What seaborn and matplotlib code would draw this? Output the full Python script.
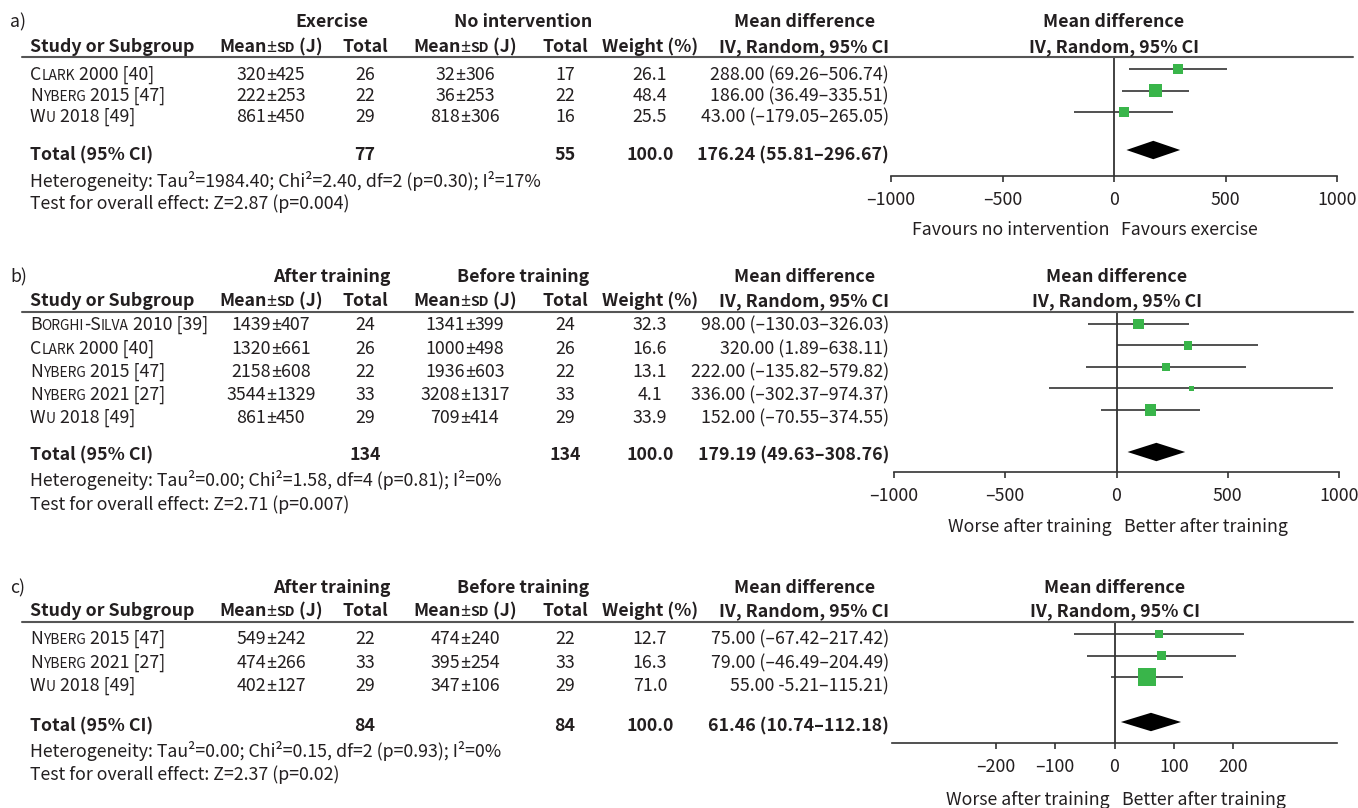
import numpy as np
import pandas as pd
import matplotlib
matplotlib.use("Agg")
import matplotlib.pyplot as plt
import seaborn as sns
from matplotlib.transforms import IdentityTransform
from matplotlib.lines import Line2D

# ---------------- data ----------------
# panel a
authors_a = ["Clark", "Nyberg", "Wu"]
refs_a = ["2000 [40]", "2015 [47]", "2018 [49]"]
exp_mean_a = [320, 222, 861]
exp_sd_a = [425, 253, 450]
exp_n_a = [26, 22, 29]
ctl_mean_a = [32, 36, 818]
ctl_sd_a = [306, 253, 306]
ctl_n_a = [17, 22, 16]
weight_a = [26.1, 48.4, 25.5]
md_a = [288.00, 186.00, 43.00]
lo_a = [69.26, 36.49, -179.05]
hi_a = [506.74, 335.51, 265.05]
ci_text_a = ["288.00 (69.26–506.74)", "186.00 (36.49–335.51)", "43.00 (–179.05–265.05)"]
total_a = {"n_exp": 77, "n_ctl": 55, "weight": "100.0", "md": 176.24, "lo": 55.81, "hi": 296.67,
           "text": "176.24 (55.81–296.67)"}
het_a = "Heterogeneity: Tau²=1984.40; Chi²=2.40, df=2 (p=0.30); I²=17%"
test_a = "Test for overall effect: Z=2.87 (p=0.004)"
groups_a = ["Exercise", "No intervention"]
favours_a = ["Favours no intervention", "Favours exercise"]
ticks_a = [-1000, -500, 0, 500, 1000]

# panel b
authors_b = ["Borghi-Silva", "Clark", "Nyberg", "Nyberg", "Wu"]
refs_b = ["2010 [39]", "2000 [40]", "2015 [47]", "2021 [27]", "2018 [49]"]
exp_mean_b = [1439, 1320, 2158, 3544, 861]
exp_sd_b = [407, 661, 608, 1329, 450]
exp_n_b = [24, 26, 22, 33, 29]
ctl_mean_b = [1341, 1000, 1936, 3208, 709]
ctl_sd_b = [399, 498, 603, 1317, 414]
ctl_n_b = [24, 26, 22, 33, 29]
weight_b = [32.3, 16.6, 13.1, 4.1, 33.9]
md_b = [98.00, 320.00, 222.00, 336.00, 152.00]
lo_b = [-130.03, 1.89, -135.82, -302.37, -70.55]
hi_b = [326.03, 638.11, 579.82, 974.37, 374.55]
ci_text_b = ["98.00 (–130.03–326.03)", "320.00 (1.89–638.11)", "222.00 (–135.82–579.82)",
             "336.00 (–302.37–974.37)", "152.00 (–70.55–374.55)"]
total_b = {"n_exp": 134, "n_ctl": 134, "weight": "100.0", "md": 179.19, "lo": 49.63, "hi": 308.76,
           "text": "179.19 (49.63–308.76)"}
het_b = "Heterogeneity: Tau²=0.00; Chi²=1.58, df=4 (p=0.81); I²=0%"
test_b = "Test for overall effect: Z=2.71 (p=0.007)"
groups_b = ["After training", "Before training"]
favours_b = ["Worse after training", "Better after training"]
ticks_b = [-1000, -500, 0, 500, 1000]

# panel c
authors_c = ["Nyberg", "Nyberg", "Wu"]
refs_c = ["2015 [47]", "2021 [27]", "2018 [49]"]
exp_mean_c = [549, 474, 402]
exp_sd_c = [242, 266, 127]
exp_n_c = [22, 33, 29]
ctl_mean_c = [474, 395, 347]
ctl_sd_c = [240, 254, 106]
ctl_n_c = [22, 33, 29]
weight_c = [12.7, 16.3, 71.0]
md_c = [75.00, 79.00, 55.00]
lo_c = [-67.42, -46.49, -5.21]
hi_c = [217.42, 204.49, 115.21]
ci_text_c = ["75.00 (–67.42–217.42)", "79.00 (–46.49–204.49)", "55.00 -5.21–115.21)"]
total_c = {"n_exp": 84, "n_ctl": 84, "weight": "100.0", "md": 61.46, "lo": 10.74, "hi": 112.18,
           "text": "61.46 (10.74–112.18)"}
het_c = "Heterogeneity: Tau²=0.00; Chi²=0.15, df=2 (p=0.93); I²=0%"
test_c = "Test for overall effect: Z=2.37 (p=0.02)"
groups_c = ["After training", "Before training"]
favours_c = ["Worse after training", "Better after training"]
ticks_c = [-200, -100, 0, 100, 200]

# ---------------- style ----------------
sns.set_style("white")
MAIN = ["Noto Sans CJK SC", "DejaVu Sans"]
PM_FAMILY = ["Noto Sans", "DejaVu Sans"]
plt.rcParams["font.family"] = MAIN

W, H = 1358, 808
FS = 12.8
SC = 0.78
TXT = "#231f20"
GREEN = "#39b54a"
DARK = "#333333"

fig = plt.figure(figsize=(W / 100, H / 100), dpi=100)
fig.patch.set_facecolor("white")
renderer = fig.canvas.get_renderer()


def rich(x, y, segs, ha="left", weight="normal", size=FS):
    ts = []
    for seg in segs:
        s, k = seg[0], seg[1]
        fam = seg[2] if len(seg) > 2 else MAIN
        t = fig.text(0, H - y, s, transform=IdentityTransform(), fontsize=size * k,
                     fontweight=weight, va="baseline", ha="left", color=TXT, family=fam)
        ts.append(t)
    ws = [t.get_window_extent(renderer).width for t in ts]
    tot = sum(ws)
    x0 = x - {"left": 0, "center": tot / 2, "right": tot}[ha]
    for t, w in zip(ts, ws):
        t.set_x(x0)
        x0 += w


def plain(x, y, s, ha="left", weight="normal"):
    rich(x, y, [(s, 1.0)], ha=ha, weight=weight)


def pm(m, s):
    return [(str(m), 1.0), ("±", 1.0, PM_FAMILY), (str(s), 1.0)]


def smallcaps(word):
    segs = []
    for ch in word:
        k = SC if ch.islower() else 1.0
        c = ch.upper()
        if segs and segs[-1][1] == k:
            segs[-1] = (segs[-1][0] + c, k)
        else:
            segs.append((c, k))
    return segs


# column x positions (pixels)
X_STUDY, X_EM, X_EN, X_CM, X_CN, X_W, X_CI = 30, 271, 365, 465, 565, 650, 889
X_G1, X_G2, X_MD = 332, 523, 805

panels = [
    dict(tag="a)", authors=authors_a, refs=refs_a, em=exp_mean_a, es=exp_sd_a, en=exp_n_a,
         cm=ctl_mean_a, cs=ctl_sd_a, cn=ctl_n_a, w=weight_a, md=md_a, lo=lo_a, hi=hi_a,
         ci=ci_text_a, tot=total_a, het=het_a, test=test_a, groups=groups_a, fav=favours_a,
         ticks=ticks_a, xlim=(-1000, 1000), S=175,
         lay=dict(label=27, header=52, line=57, rows=[80, 101, 122], total=160, het=187, test=209,
                  L=891, R=1337, B=176, r0=69, step=21.5, dia=150, fav=235)),
    dict(tag="b)", authors=authors_b, refs=refs_b, em=exp_mean_b, es=exp_sd_b, en=exp_n_b,
         cm=ctl_mean_b, cs=ctl_sd_b, cn=ctl_n_b, w=weight_b, md=md_b, lo=lo_b, hi=hi_b,
         ci=ci_text_b, tot=total_b, het=het_b, test=test_b, groups=groups_b, fav=favours_b,
         ticks=ticks_b, xlim=(-1000, 1000), S=175,
         lay=dict(label=282, header=306, line=312, rows=[330, 354, 377, 400, 423], total=460,
                  het=486, test=510, L=894, R=1339, B=472, r0=324, step=21.5, dia=452, fav=532)),
    dict(tag="c)", authors=authors_c, refs=refs_c, em=exp_mean_c, es=exp_sd_c, en=exp_n_c,
         cm=ctl_mean_c, cs=ctl_sd_c, cn=ctl_n_c, w=weight_c, md=md_c, lo=lo_c, hi=hi_c,
         ci=ci_text_c, tot=total_c, het=het_c, test=test_c, groups=groups_c, fav=favours_c,
         ticks=ticks_c, xlim=(-375, 375), S=240,
         lay=dict(label=593, header=616, line=622, rows=[644, 668, 691], total=731, het=757,
                  test=780, L=892, R=1337, B=743, r0=634, step=21.5, dia=722, fav=805)),
]

for p in panels:
    lay = p["lay"]
    # header row 1
    plain(10, lay["label"], p["tag"])
    plain(X_G1, lay["label"], p["groups"][0], ha="center", weight="bold")
    plain(X_G2, lay["label"], p["groups"][1], ha="center", weight="bold")
    plain(X_MD, lay["label"], "Mean difference", ha="center", weight="bold")
    # header row 2
    hb = lay["header"]
    plain(X_STUDY, hb, "Study or Subgroup", weight="bold")
    msd = [("Mean", 1.0), ("±", 1.0, PM_FAMILY), ("SD", SC), (" (J)", 1.0)]
    rich(X_EM, hb, msd, ha="center", weight="bold")
    plain(X_EN, hb, "Total", ha="center", weight="bold")
    rich(X_CM, hb, msd, ha="center", weight="bold")
    plain(X_CN, hb, "Total", ha="center", weight="bold")
    plain(X_W, hb, "Weight (%)", ha="center", weight="bold")
    plain(X_CI, hb, "IV, Random, 95% CI", ha="right", weight="bold")
    # separator line
    yl = 1 - lay["line"] / H
    fig.add_artist(Line2D([22 / W, 1353 / W], [yl, yl], transform=fig.transFigure,
                          color="#555555", lw=1.5))
    # study rows
    for i, yb in enumerate(lay["rows"]):
        rich(X_STUDY, yb, smallcaps(p["authors"][i]) + [(" " + p["refs"][i], 1.0)])
        rich(X_EM, yb, pm(p["em"][i], p["es"][i]), ha="center")
        plain(X_EN, yb, str(p["en"][i]), ha="center")
        rich(X_CM, yb, pm(p["cm"][i], p["cs"][i]), ha="center")
        plain(X_CN, yb, str(p["cn"][i]), ha="center")
        plain(X_W, yb, f"{p['w'][i]:.1f}", ha="center")
        plain(X_CI, yb, p["ci"][i], ha="right")
    # total row
    tb = lay["total"]
    plain(X_STUDY, tb, "Total (95% CI)", weight="bold")
    plain(X_EN, tb, str(p["tot"]["n_exp"]), ha="center", weight="bold")
    plain(X_CN, tb, str(p["tot"]["n_ctl"]), ha="center", weight="bold")
    plain(X_W, tb, p["tot"]["weight"], ha="center", weight="bold")
    plain(X_CI, tb, p["tot"]["text"], ha="right", weight="bold")
    plain(X_STUDY, lay["het"], p["het"])
    plain(X_STUDY, lay["test"], p["test"])

    # forest axes
    L, R, T, B = lay["L"], lay["R"], lay["line"], lay["B"]
    ax = fig.add_axes([L / W, 1 - B / H, (R - L) / W, (B - T) / H])
    ax.set_facecolor("none")
    n = len(p["md"])
    df = pd.DataFrame({"md": p["md"], "lo": p["lo"], "hi": p["hi"], "w": p["w"],
                       "row": np.arange(n)})
    ax.hlines(df["row"], df["lo"], df["hi"], color=DARK, lw=1.2, zorder=2)
    sns.scatterplot(data=df, x="md", y="row", size="w", size_norm=(0, 100), sizes=(8, p["S"]),
                    marker="s", color=GREEN, linewidth=0, legend=False, ax=ax, zorder=3)
    d = (lay["dia"] - lay["r0"]) / lay["step"]
    hh = 9.2 / lay["step"]
    t = p["tot"]
    ax.fill([t["lo"], t["md"], t["hi"], t["md"]], [d, d - hh, d, d + hh], color="black", lw=0,
            zorder=3)
    ax.axvline(0, color=DARK, lw=1.3, zorder=1)
    ax.set_xlim(*p["xlim"])
    ax.set_ylim((B - lay["r0"]) / lay["step"], (T - lay["r0"]) / lay["step"])
    ax.set_xticks(p["ticks"])
    ax.set_xticklabels([f"{v}".replace("-", "–") for v in p["ticks"]])
    ax.set_yticks([])
    ax.set_xlabel("")
    ax.set_ylabel("")
    for s in ["top", "left", "right"]:
        ax.spines[s].set_visible(False)
    ax.spines["bottom"].set_color(DARK)
    ax.spines["bottom"].set_linewidth(1.2)
    ax.tick_params(axis="x", direction="out", length=4.5, width=1.2, color=DARK,
                   labelsize=FS, labelcolor=TXT, pad=6, bottom=True)
    # right header and favours labels
    cx = (L + R) / 2
    plain(cx, lay["label"], "Mean difference", ha="center", weight="bold")
    plain(cx, hb, "IV, Random, 95% CI", ha="center", weight="bold")
    zx = ax.transData.transform((0, 0))[0]
    plain(zx - 5, lay["fav"], p["fav"][0], ha="right")
    plain(zx + 7, lay["fav"], p["fav"][1], ha="left")

fig.savefig("out.png", dpi=100, facecolor="white")
